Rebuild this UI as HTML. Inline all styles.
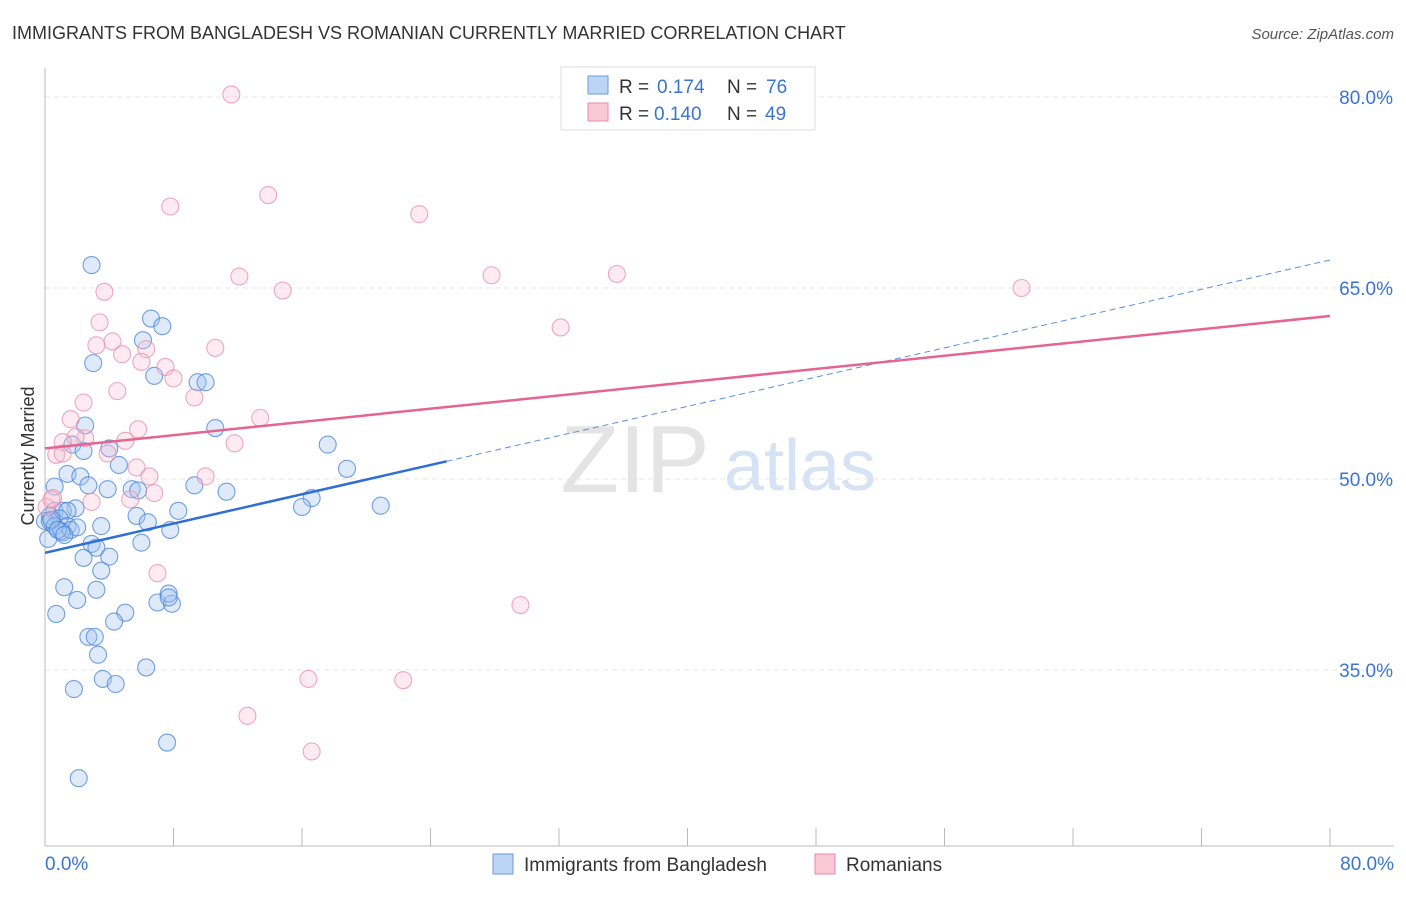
<!DOCTYPE html>
<html><head><meta charset="utf-8"><style>
body{margin:0;background:#fff;font-family:"Liberation Sans",sans-serif}
svg text{font-family:"Liberation Sans",sans-serif}
</style></head><body>
<svg id="chart" width="1406" height="892" xmlns="http://www.w3.org/2000/svg">
<text x="12" y="39" font-size="18" fill="#333">IMMIGRANTS FROM BANGLADESH VS ROMANIAN CURRENTLY MARRIED CORRELATION CHART</text>
<text x="1394" y="39" font-size="15" fill="#555" font-style="italic" text-anchor="end">Source: ZipAtlas.com</text>
<text x="34" y="456" font-size="18" fill="#333" text-anchor="middle" transform="rotate(-90 34 456)">Currently Married</text>
<text x="635" y="492" font-size="96" fill="#e4e4e4" font-family="Liberation Serif" text-anchor="middle">ZIP</text>
<text x="800" y="490" font-size="72" fill="#d5e3f5" text-anchor="middle">atlas</text>
<g id="grid"></g><g id="axes"></g><g id="pts"></g><g id="lines"></g>
<g>
<rect x="561" y="67" width="254" height="63" fill="#fff" stroke="#ddd"/>
<rect x="588" y="76" width="20" height="18" fill="#bcd4f5" stroke="#6b9ae0"/>
<text x="619" y="93" font-size="19" fill="#333">R =</text>
<text x="657" y="93" font-size="19" fill="#3a74d0">0.174</text>
<text x="727" y="93" font-size="19" fill="#333">N =</text>
<text x="766" y="93" font-size="19" fill="#3a74d0">76</text>
<rect x="588" y="103" width="20" height="18" fill="#f8c8d6" stroke="#e88aa8"/>
<text x="619" y="120" font-size="19" fill="#333">R =</text>
<text x="654" y="120" font-size="19" fill="#3a74d0">0.140</text>
<text x="727" y="120" font-size="19" fill="#333">N =</text>
<text x="765" y="120" font-size="19" fill="#3a74d0">49</text>
</g>
<g>
<rect x="493" y="854" width="20" height="20" fill="#bcd4f5" stroke="#6b9ae0"/>
<text x="524" y="871" font-size="19" fill="#333">Immigrants from Bangladesh</text>
<rect x="815" y="854" width="20" height="20" fill="#f8c8d6" stroke="#e88aa8"/>
<text x="846" y="871" font-size="19" fill="#333">Romanians</text>
</g>
</svg>
<script>
const yTicks=[35,50,65,80];
const yTickLabels=["35.0%","50.0%","65.0%","80.0%"];
const xTickLabels=["0.0%","80.0%"];
const blueX=[2.9,6.6,7.3,6.1,3.0,6.8,9.5,10.0,10.6,2.5,1.7,2.4,4.0,4.6,17.6,18.8,1.4,2.2,0.6,2.7,3.9,5.4,5.8,9.3,11.3,16.6,16.0,20.9,8.3,1.9,5.7,6.4,0.6,1.1,1.4,0.3,0.9,0.0,1.4,3.5,7.8,1.1,0.2,2.9,3.2,6.0,2.4,4.0,3.5,1.2,3.2,2.0,5.0,0.7,4.3,7.0,7.9,7.7,7.7,2.7,3.1,3.3,3.6,4.4,1.8,6.3,7.6,2.1,0.3,0.6,1.0,1.6,0.4,0.8,2.0,1.2];
const blueY=[66.8,62.6,62.0,60.9,59.1,58.1,57.6,57.6,54.0,54.2,52.7,52.2,52.4,51.1,52.7,50.8,50.4,50.2,49.4,49.5,49.2,49.2,49.1,49.5,49.0,48.5,47.8,47.9,47.5,47.7,47.1,46.6,47.5,47.5,47.5,47.1,46.9,46.7,46.3,46.3,46.0,45.8,45.3,44.9,44.6,45.0,43.8,43.9,42.8,41.5,41.3,40.5,39.5,39.4,38.8,40.3,40.2,41.0,40.7,37.6,37.6,36.2,34.3,33.9,33.5,35.2,29.3,26.5,46.7,46.3,45.9,46.0,46.8,46.0,46.2,45.6];
const pinkX=[11.6,13.9,7.8,23.3,12.1,27.8,35.6,60.8,3.7,14.8,32.1,3.4,4.2,3.2,6.3,4.8,10.6,6.0,7.5,8.0,4.5,9.3,2.4,1.6,13.4,11.8,5.8,5.0,2.5,1.9,3.9,1.1,0.7,1.1,5.7,6.5,10.0,6.8,5.3,2.9,0.5,7.0,29.6,16.4,22.3,12.6,16.6,0.1,0.4];
const pinkY=[80.2,72.3,71.4,70.8,65.9,66.0,66.1,65.0,64.7,64.8,61.9,62.3,60.8,60.5,60.2,59.8,60.3,59.2,58.8,57.9,56.9,56.4,56.0,54.7,54.8,52.8,53.9,53.0,53.2,53.3,52.0,52.9,51.9,52.0,50.9,50.2,50.2,48.9,48.4,48.2,48.5,42.6,40.1,34.3,34.2,31.4,28.6,47.8,48.4];
const blueLine=[0,44.2,80,67.2], blueSolidEnd=25;
const pinkLine=[0,52.4,80,62.8];
const NS="http://www.w3.org/2000/svg";
const X=v=>45+v*16.0625, Y=v=>97+(80-v)*12.733;
function mk(t,a,p){const e=document.createElementNS(NS,t);for(const k in a)e.setAttribute(k,a[k]);p.appendChild(e);return e;}
const grid=document.getElementById('grid'),axes=document.getElementById('axes'),pts=document.getElementById('pts'),lines=document.getElementById('lines');
yTicks.forEach((t,i)=>{
 const g=mk('line',{x1:45,x2:1394,y1:Y(t),y2:Y(t),stroke:'#e6e6e6','stroke-dasharray':'5,4'},grid);
 
 
 const l=mk('text',{x:1393,y:Y(t)+7,'font-size':19,fill:'#3a74d0','text-anchor':'end'},axes);
 l.textContent=yTickLabels[i];
 
 
});
const ax=mk('line',{x1:45,x2:45,y1:68,y2:846,stroke:'#bbb'},axes);


const bx=mk('line',{x1:45,x2:1394,y1:846,y2:846,stroke:'#bbb'},axes);


for(let i=0;i<=10;i++){const t=mk('line',{x1:X(i*8),x2:X(i*8),y1:828,y2:846,stroke:'#bbb'},axes);
 
 }
[[0,'start',X(0)],[1,'end',1394]].forEach(([i,a,x])=>{const t=mk('text',{x:x,y:870,'font-size':19,fill:'#3a74d0','text-anchor':a},axes);t.textContent=xTickLabels[i];
 
 });
blueX.forEach((v,i)=>{const c=mk('circle',{cx:X(v),cy:Y(blueY[i]),r:8.5,fill:'rgba(160,195,240,0.35)',stroke:'rgba(70,130,215,0.75)','stroke-width':1.1},pts);
 
 });
pinkX.forEach((v,i)=>{const c=mk('circle',{cx:X(v),cy:Y(pinkY[i]),r:8.5,fill:'rgba(248,190,208,0.3)',stroke:'rgba(232,140,170,0.75)','stroke-width':1.1},pts);
 
 });
const by=x=>blueLine[1]+(blueLine[3]-blueLine[1])*(x-blueLine[0])/(blueLine[2]-blueLine[0]);
const l1=mk('line',{x1:X(0),y1:Y(by(0)),x2:X(blueSolidEnd),y2:Y(by(blueSolidEnd)),stroke:'#2e6fd6','stroke-width':2.5},lines);


const l2=mk('line',{x1:X(blueSolidEnd),y1:Y(by(blueSolidEnd)),x2:X(80),y2:Y(by(80)),stroke:'#5b8fdc','stroke-width':1,'stroke-dasharray':'6,4'},lines);


const l3=mk('line',{x1:X(pinkLine[0]),y1:Y(pinkLine[1]),x2:X(pinkLine[2]),y2:Y(pinkLine[3]),stroke:'#e5658f','stroke-width':2.5},lines);


</script>
</body></html>
